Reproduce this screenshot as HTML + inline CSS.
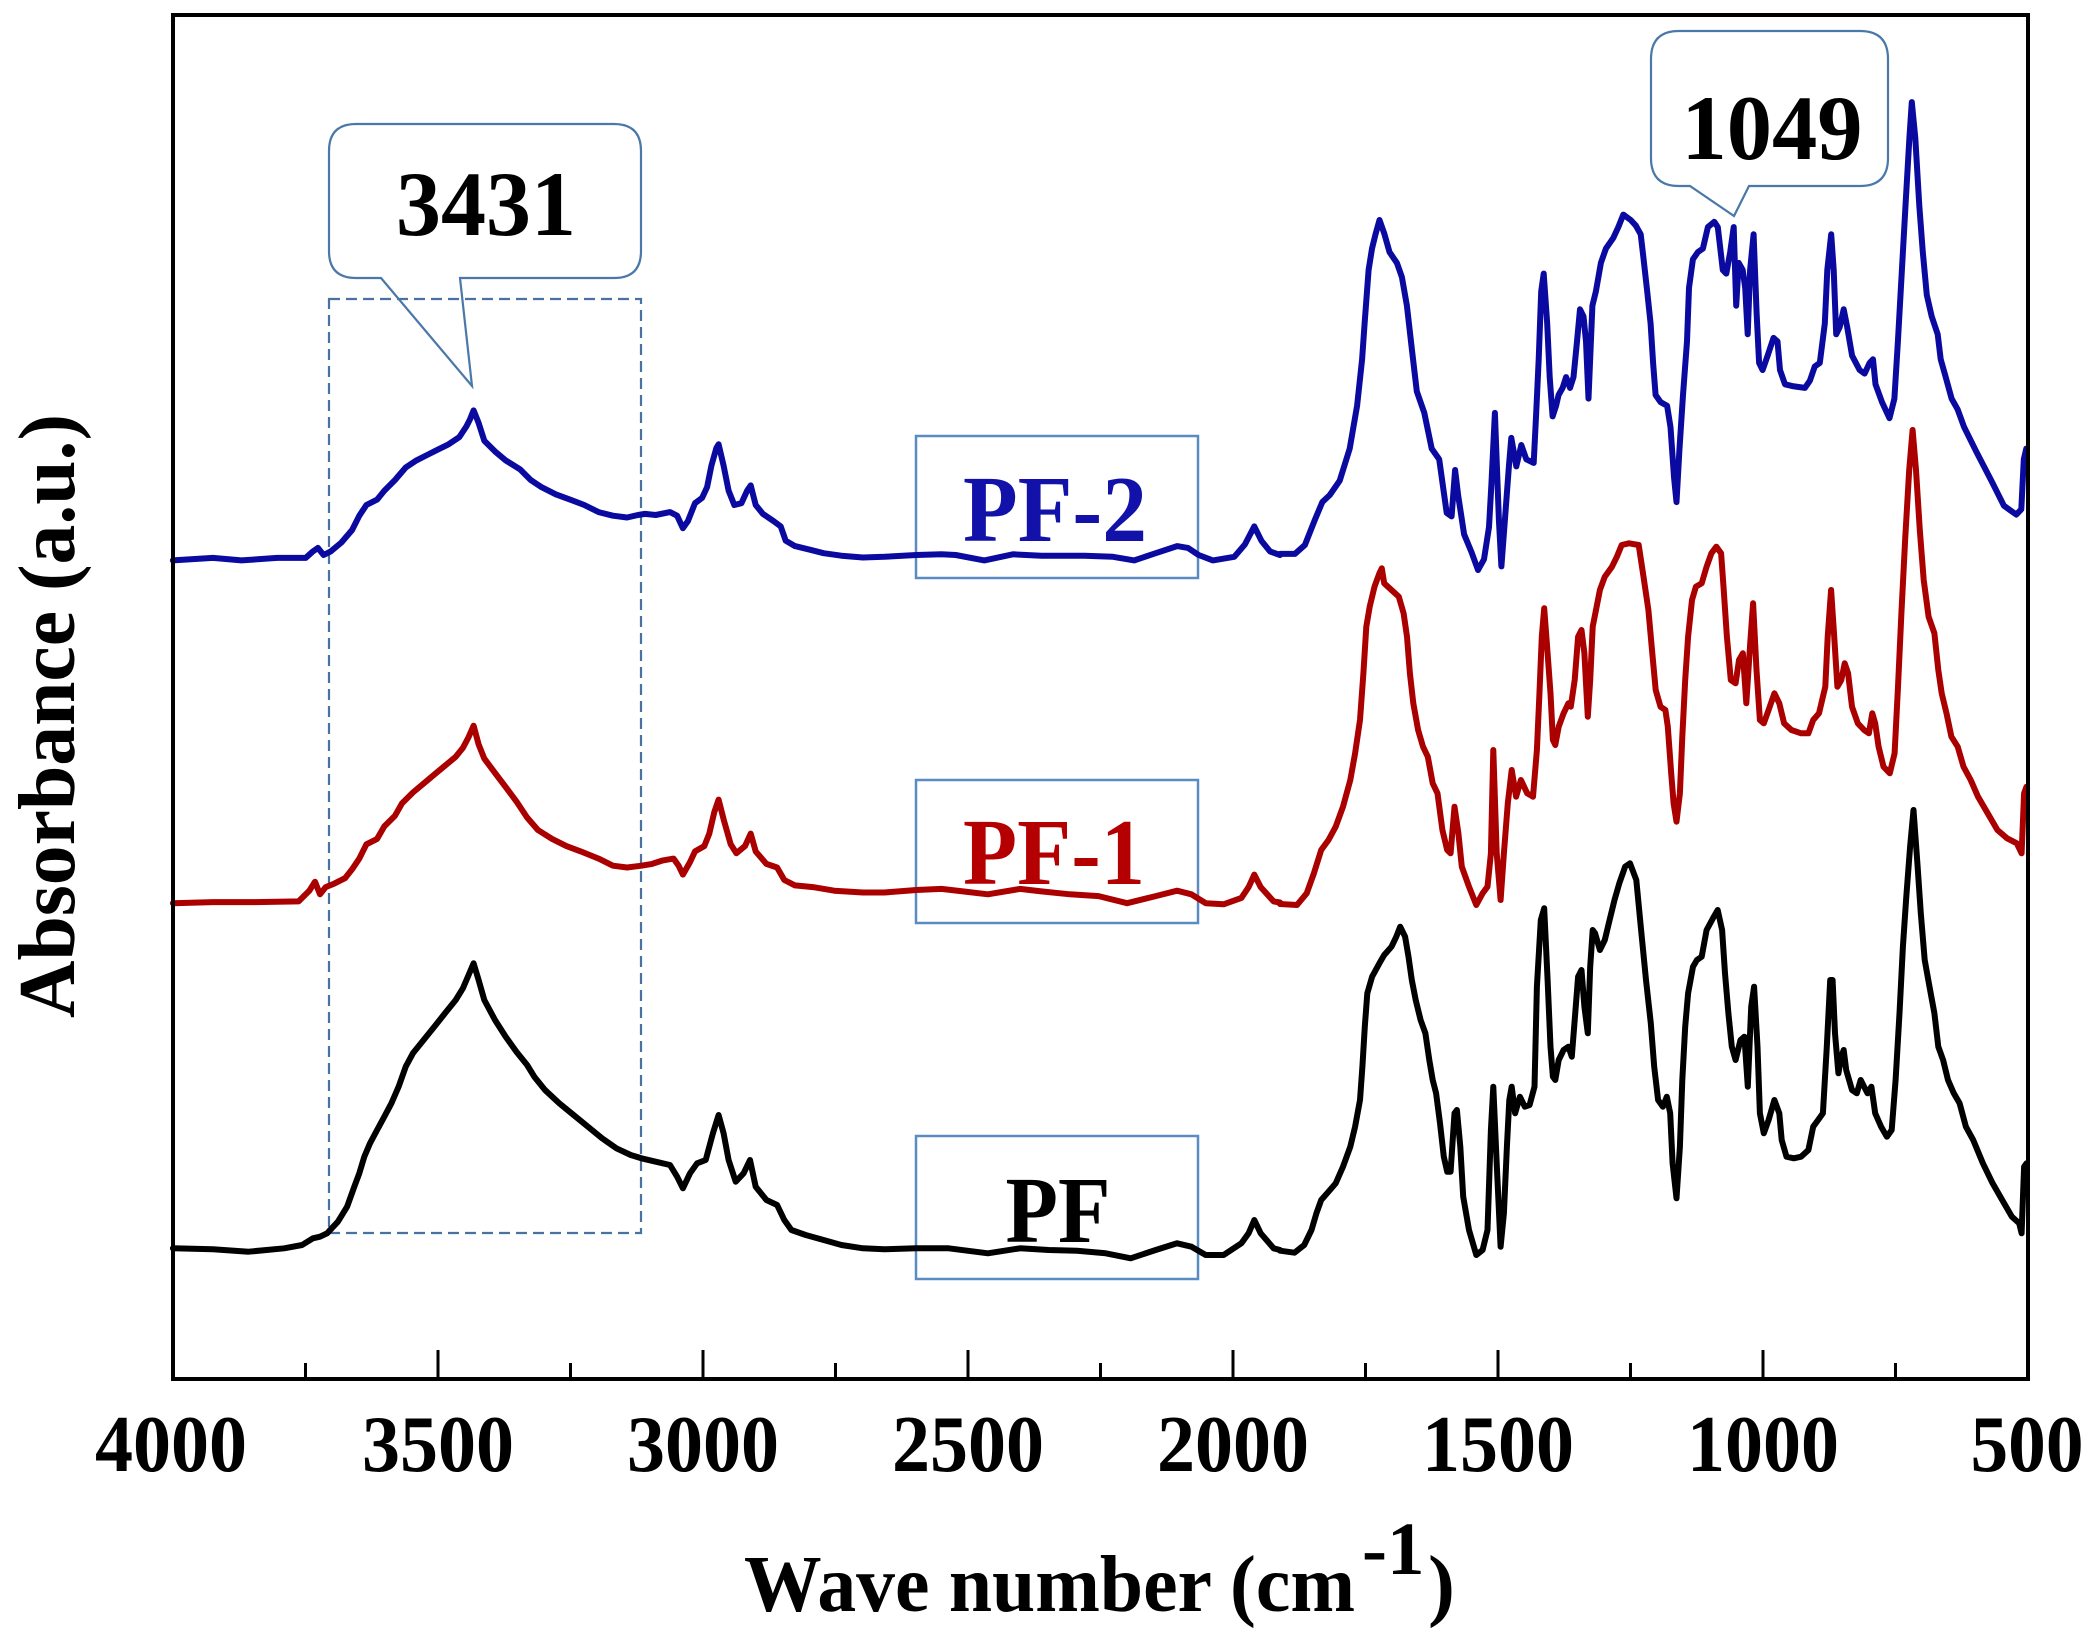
<!DOCTYPE html>
<html>
<head>
<meta charset="utf-8">
<style>
html,body{margin:0;padding:0;background:#fff;}
svg{display:block;}
text{font-family:"Liberation Serif","Times New Roman",serif;font-weight:bold;}
</style>
</head>
<body>
<svg width="2094" height="1636" viewBox="0 0 2094 1636" xmlns="http://www.w3.org/2000/svg">
<rect x="0" y="0" width="2094" height="1636" fill="#ffffff"/>

<!-- dashed selection rect -->
<rect x="329" y="299" width="312" height="934" fill="none" stroke="#4a72a0" stroke-width="2.2" stroke-dasharray="11 6"/>

<!-- callout 3431 -->
<path d="M356,124 H614 Q641,124 641,151 V251 Q641,278 614,278 H460 L472,386 L381,278 H356 Q329,278 329,251 V151 Q329,124 356,124 Z" fill="none" stroke="#4a78a8" stroke-width="2.2"/>
<text x="486" y="235" font-size="92" text-anchor="middle" textLength="180" lengthAdjust="spacingAndGlyphs" fill="#000">3431</text>

<!-- callout 1049 -->
<path d="M1679,31 H1860 Q1888,31 1888,59 V158 Q1888,186 1860,186 H1749 L1734,216 L1690,186 H1679 Q1651,186 1651,158 V59 Q1651,31 1679,31 Z" fill="#ffffff" stroke="#4a78a8" stroke-width="2.2"/>
<text x="1772" y="159" font-size="92" text-anchor="middle" textLength="181" lengthAdjust="spacingAndGlyphs" fill="#000">1049</text>

<!-- legend boxes -->
<rect x="916" y="436" width="282" height="142" fill="none" stroke="#5a8cc4" stroke-width="2.5"/>
<rect x="916" y="780" width="282" height="143" fill="none" stroke="#5a8cc4" stroke-width="2.5"/>
<rect x="916" y="1136" width="282" height="143" fill="none" stroke="#5a8cc4" stroke-width="2.5"/>

<!-- curves -->
<g fill="none" stroke-width="6" stroke-linejoin="round" stroke-linecap="round">
<!-- PF-2 blue -->
<g class="z" transform="translate(170,380) scale(0.714286,0.357143)">
<polyline vector-effect="non-scaling-stroke" stroke-width="6" stroke="#0a0aa0" points="4,505 60,498 100,505 150,498 190,498 200,480 207,470 215,490 225,480 240,455 255,420 265,380 275,350 290,335 300,310 315,280 330,245 345,225 360,210 375,195 390,180 405,160 415,130 420,110 425,85 432,120 440,170 455,200 470,225 490,250 505,280 520,300 540,320 560,335 580,350 600,370 620,380 640,385 655,378 665,375 680,378 700,370 710,380 718,415 725,395 735,345 745,330 752,300 758,240 765,190 768,180 775,240 782,310 790,350 800,345 808,310 813,295 820,350 830,375 845,395 855,410 862,450 875,465 895,475 915,485 940,492 970,497 1000,495 1045,490 1080,488 1100,490 1140,505 1180,488 1220,492 1280,492 1320,495 1350,505 1380,485 1410,465 1425,470 1440,490 1460,505 1490,495 1505,460 1518,410 1528,450 1540,480 1554,490"/>
</g>
<g class="z" transform="translate(1280,20) scale(0.497512,0.357143)">
<polyline vector-effect="non-scaling-stroke" stroke-width="6" stroke="#0a0aa0" points="0,1495 30,1495 50,1470 70,1400 85,1350 100,1330 120,1290 140,1200 155,1080 165,950 170,850 178,700 185,640 192,600 200,560 210,600 220,650 235,680 245,720 255,800 265,920 275,1040 290,1100 305,1200 320,1230 335,1380 345,1390 352,1260 358,1330 370,1440 385,1490 398,1540 410,1510 420,1420 425,1300 432,1100 440,1400 445,1530 452,1400 460,1250 465,1170 475,1250 485,1190 495,1230 510,1240 515,1100 520,950 525,760 530,710 537,850 542,1000 548,1110 555,1080 560,1050 568,1030 575,1000 583,1030 590,1000 597,900 603,810 610,830 615,900 620,1060 625,900 628,800 635,760 645,680 655,640 670,610 680,580 690,545 705,560 715,575 725,600 730,660 738,760 745,850 750,960 755,1050 765,1070 778,1080 785,1140 792,1280 797,1350 803,1200 810,1050 818,900 822,750 830,670 840,650 850,640 860,580 873,565 880,580 890,700 897,710 905,650 912,580 917,800 922,680 930,700 935,750 940,880 945,700 952,600 958,820 963,960 970,980 980,940 992,890 1000,900 1005,980 1015,1020 1030,1025 1055,1030 1065,1010 1075,970 1085,960 1095,850 1100,700 1108,600 1113,700 1118,880 1125,860 1133,810 1140,860 1150,940 1165,980 1175,990 1185,960 1192,950 1197,1020 1210,1070 1225,1115 1235,1060 1242,900 1250,700 1258,500 1265,330 1270,230 1277,330 1285,520 1292,650 1300,770 1310,830 1322,880 1328,950 1338,1000 1350,1060 1362,1090 1375,1140 1400,1210 1430,1290 1455,1360 1470,1375 1480,1385 1490,1370 1495,1230 1500,1200"/>
</g>
<!-- PF-1 red -->
<g class="z" transform="translate(170,380) scale(0.714286,0.357143)">
<polyline vector-effect="non-scaling-stroke" stroke-width="6" stroke="#aa0000" points="4,1465 60,1462 120,1462 180,1460 195,1430 203,1405 210,1440 218,1420 230,1410 245,1395 255,1370 265,1340 275,1300 290,1285 300,1250 315,1220 325,1185 340,1155 355,1130 370,1105 385,1080 400,1055 410,1030 418,1000 425,968 432,1020 440,1060 455,1100 470,1140 485,1180 500,1225 515,1260 535,1285 555,1305 575,1320 600,1340 620,1360 640,1365 660,1360 675,1355 690,1345 705,1340 712,1360 718,1385 728,1350 735,1320 748,1305 755,1270 762,1210 768,1175 775,1230 785,1300 793,1325 805,1305 813,1270 820,1320 835,1355 850,1365 860,1400 875,1415 900,1420 930,1430 970,1435 1000,1435 1045,1428 1080,1425 1110,1432 1145,1440 1190,1425 1220,1432 1260,1440 1300,1445 1340,1465 1380,1445 1410,1430 1430,1440 1450,1465 1475,1468 1500,1450 1510,1420 1518,1385 1527,1420 1545,1460 1554,1463"/>
</g>
<g class="z" transform="translate(1280,420) scale(0.48473,0.333333)">
<polyline vector-effect="non-scaling-stroke" stroke-width="6" stroke="#aa0000" points="0,1452 35,1455 55,1420 70,1360 85,1290 100,1260 115,1220 130,1160 145,1080 155,1000 165,900 172,760 178,620 185,560 195,500 205,460 210,445 215,490 230,510 245,530 255,580 262,650 268,760 275,850 285,930 295,980 305,1010 315,1090 325,1120 335,1230 345,1290 352,1300 360,1160 368,1240 375,1340 390,1400 405,1455 418,1420 428,1400 435,1300 440,990 447,1300 455,1440 462,1300 470,1150 478,1050 487,1130 497,1080 510,1120 522,1130 530,990 535,830 540,650 545,565 552,700 558,820 563,960 568,975 575,920 585,880 595,850 600,860 608,780 615,650 622,630 628,700 635,890 640,780 645,620 652,570 660,510 670,470 685,440 695,410 705,375 720,370 740,375 750,470 760,570 768,700 775,810 785,860 795,870 800,920 807,1060 812,1150 818,1205 825,1120 830,950 836,780 842,650 850,540 858,500 870,490 880,440 890,400 900,380 910,400 915,500 922,650 930,780 940,790 947,720 955,700 962,850 970,670 976,550 983,750 990,900 998,910 1008,870 1020,820 1030,850 1040,910 1055,930 1075,940 1090,940 1100,900 1112,880 1125,800 1130,650 1137,510 1143,640 1150,800 1158,780 1165,730 1172,760 1180,860 1192,910 1205,930 1215,940 1222,880 1228,910 1235,980 1245,1040 1258,1060 1268,1000 1275,800 1282,580 1290,350 1298,150 1305,30 1312,150 1320,330 1328,480 1338,590 1350,640 1358,750 1365,820 1375,880 1385,950 1398,980 1410,1040 1425,1080 1440,1130 1460,1180 1480,1230 1500,1255 1520,1270 1530,1300 1535,1120 1540,1100"/>
</g>
<!-- PF black -->
<g class="z" transform="translate(170,900) scale(0.714286,0.333333)">
<polyline vector-effect="non-scaling-stroke" stroke-width="6" stroke="#000000" points="4,1045 60,1048 110,1055 160,1045 185,1035 200,1015 210,1010 220,1000 235,965 248,920 258,860 265,820 272,770 280,730 290,690 300,650 310,610 320,560 330,500 340,460 355,420 370,380 385,340 400,300 410,265 418,225 425,190 432,240 440,300 455,360 470,410 485,455 500,495 510,530 525,570 545,610 565,645 585,680 605,715 625,745 645,765 660,775 680,785 700,795 710,830 718,865 728,820 738,790 750,780 760,700 768,645 775,700 782,780 792,845 803,820 812,780 820,860 835,900 850,915 860,960 870,990 890,1005 915,1020 940,1035 970,1045 1000,1048 1045,1045 1090,1045 1145,1060 1190,1045 1230,1050 1270,1052 1310,1060 1345,1075 1380,1050 1410,1030 1430,1040 1450,1065 1475,1065 1500,1030 1510,1000 1518,960 1527,1000 1545,1045 1554,1050"/>
</g>
<g class="z" transform="translate(1280,780) scale(0.48473,0.333333)">
<polyline vector-effect="non-scaling-stroke" stroke-width="6" stroke="#000000" points="0,1412 30,1418 50,1395 65,1350 75,1300 85,1260 100,1235 115,1210 130,1160 145,1100 155,1040 165,960 170,860 175,740 180,640 190,590 205,550 215,525 230,500 240,470 248,440 258,470 265,530 272,600 280,660 290,720 300,760 308,840 315,900 322,940 330,1030 338,1130 345,1175 352,1175 360,1000 365,990 372,1100 378,1250 390,1350 405,1425 418,1410 428,1350 435,1050 440,920 447,1150 455,1400 462,1300 468,1100 473,960 478,920 485,1000 495,950 505,980 515,975 525,920 530,620 538,420 545,385 552,600 558,800 563,890 568,900 575,840 585,810 595,800 602,830 608,720 615,590 622,570 628,680 635,760 640,560 645,450 650,460 660,510 670,480 680,420 690,360 700,310 712,260 722,250 735,300 745,450 755,600 765,730 772,860 780,960 790,980 798,950 805,1000 810,1150 818,1255 825,1100 830,900 836,740 842,640 852,560 860,540 870,530 880,450 895,410 903,390 912,450 918,580 925,700 932,800 940,840 950,780 958,770 965,920 972,680 978,620 985,800 990,1000 998,1060 1008,1020 1020,960 1030,1000 1035,1080 1045,1130 1060,1135 1075,1130 1090,1110 1100,1040 1110,1020 1120,1000 1128,800 1135,600 1140,600 1145,760 1152,880 1158,830 1163,810 1168,870 1180,930 1190,940 1198,900 1205,920 1212,940 1220,920 1228,1000 1240,1040 1252,1070 1262,1050 1270,900 1278,700 1285,500 1292,350 1300,200 1307,90 1315,250 1322,400 1330,540 1340,620 1350,700 1358,800 1368,840 1378,900 1390,940 1402,970 1415,1040 1430,1080 1450,1150 1470,1210 1490,1260 1510,1310 1525,1330 1530,1360 1535,1160 1540,1150"/>
</g>
</g>

<!-- frame -->
<rect x="173" y="15" width="1855" height="1364" fill="none" stroke="#000" stroke-width="4"/>

<!-- ticks -->
<g stroke="#000" stroke-width="3">
<line x1="438" y1="1350" x2="438" y2="1379"/>
<line x1="703" y1="1350" x2="703" y2="1379"/>
<line x1="968" y1="1350" x2="968" y2="1379"/>
<line x1="1233" y1="1350" x2="1233" y2="1379"/>
<line x1="1498" y1="1350" x2="1498" y2="1379"/>
<line x1="1763" y1="1350" x2="1763" y2="1379"/>
<line x1="305.5" y1="1363" x2="305.5" y2="1379"/>
<line x1="570.5" y1="1363" x2="570.5" y2="1379"/>
<line x1="835.5" y1="1363" x2="835.5" y2="1379"/>
<line x1="1100.5" y1="1363" x2="1100.5" y2="1379"/>
<line x1="1365.5" y1="1363" x2="1365.5" y2="1379"/>
<line x1="1630.5" y1="1363" x2="1630.5" y2="1379"/>
<line x1="1895.5" y1="1363" x2="1895.5" y2="1379"/>
</g>

<!-- tick labels -->
<g font-size="80" text-anchor="middle" fill="#000">
<text x="171" y="1471" textLength="152" lengthAdjust="spacingAndGlyphs">4000</text>
<text x="438" y="1471" textLength="152" lengthAdjust="spacingAndGlyphs">3500</text>
<text x="703" y="1471" textLength="152" lengthAdjust="spacingAndGlyphs">3000</text>
<text x="968" y="1471" textLength="152" lengthAdjust="spacingAndGlyphs">2500</text>
<text x="1233" y="1471" textLength="152" lengthAdjust="spacingAndGlyphs">2000</text>
<text x="1498" y="1471" textLength="152" lengthAdjust="spacingAndGlyphs">1500</text>
<text x="1763" y="1471" textLength="152" lengthAdjust="spacingAndGlyphs">1000</text>
<text x="2027" y="1471" textLength="113" lengthAdjust="spacingAndGlyphs">500</text>
</g>

<!-- axis titles -->
<text x="744" y="1611" font-size="81" textLength="611" lengthAdjust="spacingAndGlyphs" fill="#000">Wave number (cm</text>
<text x="1362" y="1574" font-size="75" fill="#000">-1</text>
<text x="1428" y="1611" font-size="81" fill="#000">)</text>
<text transform="translate(74,716) rotate(-90)" font-size="80" text-anchor="middle" textLength="604" lengthAdjust="spacingAndGlyphs" fill="#000">Absorbance (a.u.)</text>

<!-- legend labels -->
<text x="1055" y="541" font-size="94" text-anchor="middle" textLength="184" lengthAdjust="spacingAndGlyphs" fill="#1212aa">PF-2</text>
<text x="1054" y="884" font-size="94" text-anchor="middle" textLength="182" lengthAdjust="spacingAndGlyphs" fill="#b40000">PF-1</text>
<text x="1058" y="1242" font-size="94" text-anchor="middle" textLength="105" lengthAdjust="spacingAndGlyphs" fill="#000">PF</text>
</svg>
<script>
(function(){
  var gs=document.querySelectorAll('g.z');
  for(var i=0;i<gs.length;i++){
    var g=gs[i];
    var m=g.getAttribute('transform').match(/translate\(([^,]+),([^)]+)\)\s*scale\(([^,]+),([^)]+)\)/);
    if(!m) continue;
    var tx=+m[1],ty=+m[2],sx=+m[3],sy=+m[4];
    var ps=g.querySelectorAll('polyline');
    for(var j=0;j<ps.length;j++){
      var p=ps[j];
      var pts=p.getAttribute('points').trim().split(/\s+/).map(function(s){
        var a=s.split(',');
        return (tx+(+a[0])*sx).toFixed(1)+','+(ty+(+a[1])*sy).toFixed(1);
      }).join(' ');
      p.setAttribute('points',pts);
      p.removeAttribute('vector-effect');
    }
    g.removeAttribute('transform');
  }
})();
</script>
</body>
</html>
